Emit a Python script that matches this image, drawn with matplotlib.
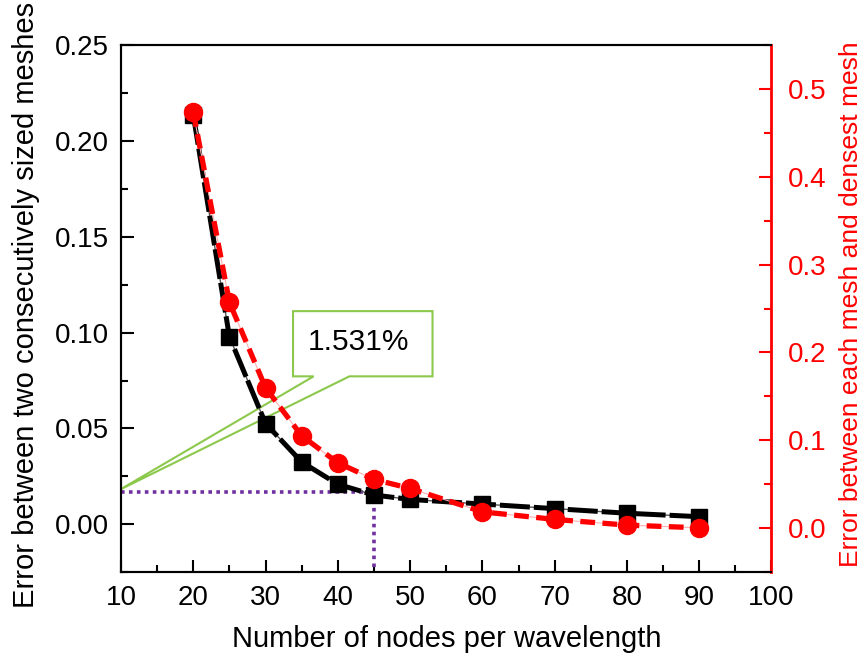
import matplotlib
matplotlib.use("Agg")
import matplotlib.pyplot as plt
from matplotlib.patches import Polygon
from matplotlib.ticker import MultipleLocator

plt.rcParams['font.family'] = ['Liberation Sans', 'DejaVu Sans']

# data
nodes = [20, 25, 30, 35, 40, 45, 50, 60, 70, 80, 90]
err_consecutive = [0.2135, 0.0978, 0.0526, 0.0325, 0.0209, 0.01531, 0.0130, 0.0106, 0.0082, 0.0058, 0.0040]
err_densest = [0.4737, 0.2570, 0.1596, 0.1049, 0.0741, 0.0552, 0.0449, 0.0182, 0.0096, 0.0031, 0.0000]

marked_x = 45
marked_y = 0.0168
callout_text = "1.531%"
# callout box (left, right, bottom, top) and pointer in data units
box = (33.8, 53.1, 0.0772, 0.1112)
pointer_base = (36.65, 41.6)
pointer_tip = (9.8, 0.018)

green = '#8CC84B'
purple = '#7030A0'

fig = plt.figure(figsize=(8.65, 6.66), dpi=100)
ax = fig.add_axes([0.1399, 0.1407, 0.7520, 0.7917])
ax2 = ax.twinx()

ax.set_xlim(10, 100)
ax.set_ylim(-0.025, 0.25)
ax2.set_ylim(-0.0507, 0.5504)

# callout
l, r, b, t = box
poly = Polygon([(l, t), (r, t), (r, b), (pointer_base[1], b), pointer_tip,
                (pointer_base[0], b), (l, b)], closed=True, fill=False,
               edgecolor=green, linewidth=1.5, zorder=1)
ax.add_patch(poly)
ax.text((l + r) / 2 - 0.6, (b + t) / 2 + 0.001, callout_text, fontsize=21.5, ha='center', va='center', zorder=1)

# dotted guide lines
ax.plot([10, marked_x], [marked_y, marked_y], color=purple, linestyle=(0, (1, 1.2)), linewidth=2.6, zorder=2)
ax.plot([marked_x, marked_x], [marked_y, -0.025], color=purple, linestyle=(0, (1, 1.2)), linewidth=2.6, zorder=2)

ax.plot(nodes, err_consecutive, color='#555555', linewidth=1.0, zorder=3)
ax.plot(nodes, err_consecutive, color='black', linewidth=3.6, linestyle=(0, (6, 0.8)),
        marker='s', markersize=11, zorder=4)

ax2.plot(nodes, err_densest, color='#ffb0b0', linewidth=0.8, zorder=3)
ax2.plot(nodes, err_densest, color='red', linewidth=3.8, linestyle=(0, (2.8, 1.4)),
         marker='o', markersize=13, zorder=4)

ax.xaxis.set_major_locator(MultipleLocator(10))
ax.xaxis.set_minor_locator(MultipleLocator(5))
ax.yaxis.set_major_locator(MultipleLocator(0.05))
ax.yaxis.set_minor_locator(MultipleLocator(0.025))
ax2.yaxis.set_major_locator(MultipleLocator(0.1))
ax2.yaxis.set_minor_locator(MultipleLocator(0.05))
ax.yaxis.set_major_formatter(plt.FormatStrFormatter('%.2f'))
ax2.yaxis.set_major_formatter(plt.FormatStrFormatter('%.1f'))

ax.tick_params(which='both', direction='in', width=1.5, labelsize=20, top=False, right=False)
ax.tick_params(axis='y', which='major', length=9, pad=9)
ax.tick_params(axis='x', which='major', length=9, pad=9)
ax.tick_params(which='minor', length=5)
ax2.tick_params(which='both', direction='in', width=1.5, labelsize=20, colors='red')
ax2.tick_params(which='major', length=9, pad=12)
ax2.tick_params(which='minor', length=5)

for s in ['left', 'bottom', 'top']:
    ax.spines[s].set_linewidth(1.5)
    ax2.spines[s].set_linewidth(1.5)
ax2.spines['right'].set_color('red')
ax2.spines['right'].set_linewidth(2)

ax.set_xlabel("Number of nodes per wavelength", fontsize=21)
ax.set_ylabel("Error between two consecutively sized meshes", fontsize=21)
ax2.set_ylabel("Error between each mesh and densest mesh", fontsize=19, color='red')
ax.xaxis.set_label_coords(0.5, -0.10)
ax.yaxis.set_label_coords(-0.125, 0.507)
ax2.yaxis.set_label_coords(1.104, 0.509)

fig.savefig("out.png", dpi=100)
